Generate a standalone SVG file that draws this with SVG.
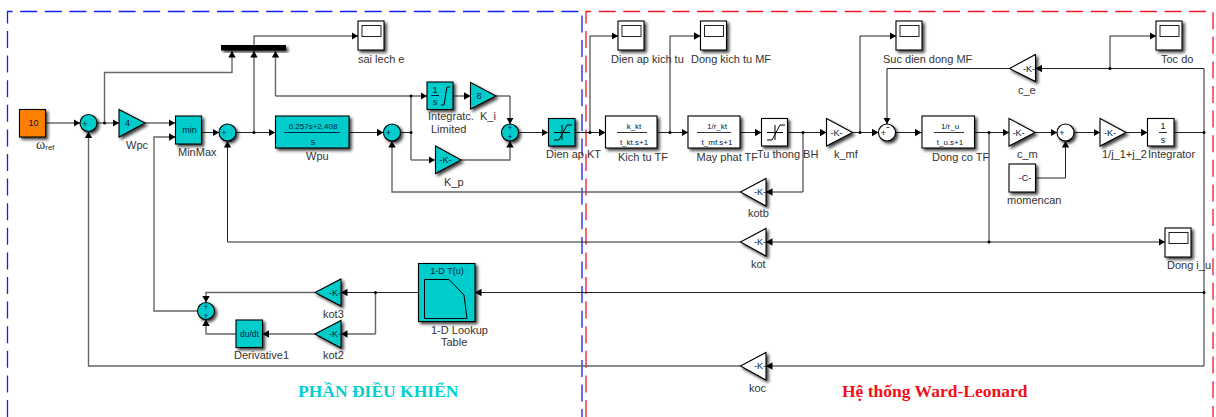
<svg xmlns="http://www.w3.org/2000/svg" width="1216" height="417" viewBox="0 0 1216 417">
<style>
text{font-family:"Liberation Sans",Arial,sans-serif;font-size:11px;fill:#333}
.t{font-size:9px;fill:#024;text-anchor:middle}
.n{font-size:8px}
.w{fill:#333}
.c{fill:#00cccc;stroke:#000;stroke-width:1.1;filter:url(#sh)}
.o{fill:#ff8000;stroke:#000;stroke-width:1.1;filter:url(#sh)}
.b{fill:#fff;stroke:#000;stroke-width:1.1;filter:url(#sh)}
.l{fill:none;stroke:#222;stroke-width:1}
.g{fill:none;stroke:#666;stroke-width:1.4}
.a{marker-end:url(#ar)}
.d{fill:#000}
.frame{fill:none;stroke-width:1.3;stroke-dasharray:17 7.600}
.ttl{font-family:"Liberation Serif","Times New Roman",serif;font-weight:bold;font-size:17.500px}
</style>
<defs>
<filter id="sh" x="-30%" y="-30%" width="170%" height="170%"><feDropShadow dx="2.200" dy="2.200" stdDeviation="1.600" flood-color="#000" flood-opacity="0.75"/></filter>
<marker id="ar" markerUnits="userSpaceOnUse" markerWidth="7" markerHeight="8" refX="6.500" refY="3.700" orient="auto"><path d="M0 0L6.500 3.700L0 7.400Z" fill="#000"/></marker>
<g id="scope"><rect class="b" width="26" height="29"/><rect x="4" y="4.500" width="19" height="11" fill="#fff" stroke="#222" stroke-width="1"/></g>
</defs>
<rect width="1216" height="417" fill="#fff"/>
<g id="frames">
<path class="frame" stroke="#1020f0" d="M7.500 417V11.500H582V417"/>
<path class="frame" stroke="#f01828" d="M586 417V11.500H1213V417"/>
</g>
<g id="connectors">
<path class="l a" d="M45 123H80"/>
<path class="l a" d="M97 123H119"/>
<path class="g a" d="M104.500 123V72.500H232V51"/>
<path class="l a" d="M145 123H175"/>
<path class="l a" d="M201.500 132.500H219"/>
<path class="l a" d="M236 132.500H275"/>
<path class="l a" d="M254 132.500V51"/>
<path class="l a" d="M254 36H358"/>
<path class="l" d="M254 51V36"/>
<path class="g a" d="M275.500 96V51"/>
<path class="g a" d="M275.500 96H427"/>
<path class="l a" d="M349 132.500H383.500"/>
<path class="l" d="M400.500 132.500H411"/>
<path class="g" d="M411 96V160"/>
<path class="g a" d="M411 160H435"/>
<path class="l a" d="M453 96H470.500"/>
<path class="l a" d="M496 96H510V124"/>
<path class="g a" d="M461 160H510V141"/>
<path class="l a" d="M518.500 132.500H548"/>
<path class="l a" d="M575 132.500H605.500"/>
<path class="l a" d="M590 132.500V36H618"/>
<path class="l a" d="M657 132.500H688"/>
<path class="l a" d="M670 132.500V36H700.500"/>
<path class="l a" d="M740 132.500H761.500"/>
<path class="l a" d="M787 132.500H826.500"/>
<path class="l a" d="M803 132.500V192H766"/>
<path class="g a" d="M740.500 192H392V141"/>
<path class="l a" d="M852.500 132.500H878.500"/>
<path class="l a" d="M860 132.500V36H896"/>
<path class="l a" d="M1204 68.500H1035.500"/>
<path class="l a" d="M1110 68.500V36H1156"/>
<path class="l a" d="M1009.500 68.500H887V124"/>
<path class="l a" d="M895.500 132.500H921.500"/>
<path class="l a" d="M974.500 132.500H1009"/>
<path class="l a" d="M1035 132.500H1057"/>
<path class="l a" d="M1074 132.500H1100"/>
<path class="l a" d="M1126 132.500H1147.500"/>
<path class="l" d="M1174 132.500H1204"/>
<path class="l a" d="M1035.500 178H1065.500V141"/>
<path class="l" d="M989 132.500V242"/>
<path class="l a" d="M989 242H766"/>
<path class="l a" d="M989 242H1165"/>
<path class="l a" d="M740.500 242H227.500V141"/>
<path class="l" d="M1204 68.500V292.500"/>
<path class="g" d="M1204 292.500V366"/>
<path class="l a" d="M1204 292.500H475"/>
<path class="g a" d="M1204 366H766"/>
<path class="g a" d="M740.500 366H88.500V131.500"/>
<path class="l a" d="M418 292.500H341"/>
<path class="g" d="M375.500 292.500V334"/>
<path class="g a" d="M375.500 334H341"/>
<path class="g a" d="M315 334H262.500"/>
<path class="g a" d="M315 292.500H206V302.500"/>
<path class="g a" d="M236 334H206V319.500"/>
<path class="g a" d="M197.500 311H154V137H175.500"/>
<g class="d">
<circle cx="104.500" cy="123" r="1.500"/><circle cx="254" cy="132.500" r="1.500"/><circle cx="411" cy="96" r="1.500"/><circle cx="411" cy="132.500" r="1.500"/>
<circle cx="590" cy="132.500" r="1.500"/><circle cx="670" cy="132.500" r="1.500"/><circle cx="803" cy="132.500" r="1.500"/><circle cx="860" cy="132.500" r="1.500"/>
<circle cx="989" cy="132.500" r="1.500"/><circle cx="989" cy="242" r="1.500"/><circle cx="1110" cy="68.500" r="1.500"/><circle cx="1204" cy="132.500" r="1.500"/>
<circle cx="1204" cy="292.500" r="1.500"/><circle cx="375.500" cy="292.500" r="1.500"/>
</g>
</g>
<g id="const"><rect class="o" x="19.500" y="109.500" width="26" height="27.500"/><text class="t" x="33.500" y="126">10</text><text x="36" y="149" style="font-family:'Liberation Serif',serif;font-size:14px">ω<tspan dy="1" style="font-family:'Liberation Sans',sans-serif;font-size:8px">ref</tspan></text></g>
<g id="sum1"><circle class="c" cx="88.500" cy="123" r="8.500"/><text class="t" x="85" y="126.500">+</text><text class="t" x="89.500" y="130" style="font-size:10px">_</text></g>
<g id="wpc"><path class="c" d="M119 109.500L145 123L119 137Z"/><text class="t" x="127.500" y="126">4</text><text x="126" y="149">Wpc</text></g>
<g id="minmax"><rect class="c" x="175.500" y="116" width="26" height="28"/><text class="t" x="189.500" y="133">min</text><text x="178" y="156">MinMax</text></g>
<g id="sum2"><circle class="c" cx="227.500" cy="132.500" r="8.500"/><text class="t" x="224" y="136">+</text><text class="t" x="229" y="139.500" style="font-size:10px">_</text></g>
<g id="mux"><rect x="221" y="45" width="65" height="5.500" fill="#000" filter="url(#sh)"/></g>
<g id="scope-e"><use href="#scope" x="358" y="21"/><text x="358" y="63">sai lech e</text></g>
<g id="wpu"><rect class="c" x="275.500" y="116" width="73.500" height="32"/><text class="t n" x="313" y="129">0.257s+2.408</text><path d="M284 132.500H340" stroke="#024" stroke-width="1"/><text class="t" x="313" y="145">s</text><text x="306" y="160">Wpu</text></g>
<g id="sum3"><circle class="c" cx="392" cy="132.500" r="8.500"/><text class="t" x="388.500" y="136">+</text><text class="t" x="393" y="139.500" style="font-size:10px">_</text></g>
<g id="integ"><rect class="c" x="427" y="82" width="26" height="27.500"/><text class="t" x="435" y="92.500">1</text><path d="M431 95.500H439" stroke="#024"/><text class="t" x="435" y="105">s</text><path d="M441 105H444L447 87H450" fill="none" stroke="#000"/><text x="428" y="120">Integratc.</text><text x="431" y="133">Limited</text></g>
<g id="ki"><path class="c" d="M470.500 82.500L496 96L470.500 109Z"/><text class="t" x="479" y="99">8</text><text x="480" y="120">K_i</text></g>
<g id="kp"><path class="c" d="M435.500 146L461 160L435.500 173.500Z"/><text class="t" x="445.500" y="163">-K-</text><text x="444" y="186">K_p</text></g>
<g id="sum4"><circle class="c" cx="510" cy="132.500" r="8.500"/><text class="t" x="510" y="131">+</text><text class="t" x="510" y="140">+</text></g>
<g id="dienap"><rect class="c" x="548.500" y="118.500" width="26.500" height="27.500"/><path d="M554 140H559L567 125H572M554 132.500H570M562 125V140" fill="none" stroke="#000"/><text x="546" y="158">Dien ap KT</text></g>
<g id="scope-dakt"><use href="#scope" x="618" y="21"/><text x="611" y="63">Dien ap kich tu</text></g>
<g id="kichtu"><rect class="b" x="605.500" y="116" width="51.500" height="32"/><text class="t n" x="634" y="129">k_kt</text><path d="M617 132.500H647" stroke="#333"/><text class="t n" x="634" y="145">t_kt.s+1</text><text x="618" y="161">Kich tu TF</text></g>
<g id="scope-dkt"><use href="#scope" x="700.500" y="21"/><text x="691" y="63">Dong kich tu MF</text></g>
<g id="mayphat"><rect class="b" x="688" y="116" width="52" height="32"/><text class="t n" x="717" y="129">1/r_kt</text><path d="M697 132.500H731" stroke="#333"/><text class="t n" x="717" y="145">t_mf.s+1</text><text x="696.500" y="161">May phat TF</text></g>
<g id="tuthong"><rect class="b" x="761.500" y="118.500" width="26" height="27.500"/><path d="M767 140H772L780 125H785M767 132.500H783M775 125V140" fill="none" stroke="#000"/><text x="757" y="158">Tu thong BH</text></g>
<g id="kmf"><path class="b" d="M826.500 118.500L852.500 132.500L826.500 146Z"/><text class="t" x="836.500" y="135.500">-K-</text><text x="834" y="158">k_mf</text></g>
<g id="kotb"><path class="b" d="M740.500 192L766 178.500V206Z"/><text class="t" x="760" y="195">-K-</text><text x="748" y="217">kotb</text></g>
<g id="scope-sd"><use href="#scope" x="896" y="21"/><text x="883" y="63">Suc dien dong MF</text></g>
<g id="sum5"><circle class="b" cx="887" cy="132.500" r="8.500"/><text class="t" x="883.500" y="136">+</text><text class="t" x="888" y="130" style="font-size:10px">-</text></g>
<g id="dongco"><rect class="b" x="922" y="116" width="52.500" height="32"/><text class="t n" x="950" y="129">1/r_u</text><path d="M934 132.500H964" stroke="#333"/><text class="t n" x="950" y="145">t_u.s+1</text><text x="932" y="161">Dong co TF</text></g>
<g id="ce"><path class="b" d="M1009.500 68.500L1035.500 54.500V81.500Z"/><text class="t" x="1029" y="71.500">-K-</text><text x="1018" y="93.500">c_e</text></g>
<g id="cm"><path class="b" d="M1009 118.500L1035 132.500L1009 146Z"/><text class="t" x="1018.500" y="135.500">-K-</text><text x="1017" y="158">c_m</text></g>
<g id="sum6"><circle class="b" cx="1065.500" cy="132.500" r="8.500"/><text class="t" x="1062" y="136">+</text><text class="t" x="1067" y="139.500" style="font-size:10px">_</text></g>
<g id="momen"><rect class="b" x="1009" y="164" width="26.500" height="28"/><text class="t" x="1025" y="181">-C-</text><text x="1007" y="204">momencan</text></g>
<g id="j"><path class="b" d="M1100 118.500L1126 132.500L1100 146Z"/><text class="t" x="1110" y="135.500">-K-</text><text x="1102" y="158">1/j_1+j_2</text></g>
<g id="integrator"><rect class="b" x="1147.500" y="118.500" width="26.500" height="27.500"/><text class="t" x="1163" y="129">1</text><path d="M1159 132.500H1167" stroke="#333"/><text class="t" x="1163" y="143">s</text><text x="1148" y="158">Integrator</text></g>
<g id="scope-toc"><use href="#scope" x="1156" y="21"/><text x="1161" y="63">Toc do</text></g>
<g id="scope-iu"><use href="#scope" x="1165" y="228"/><text x="1167" y="269">Dong i_u</text></g>
<g id="kot"><path class="b" d="M740.500 242L766 228.500V256Z"/><text class="t" x="760" y="245">-K-</text><text x="751" y="268">kot</text></g>
<g id="koc"><path class="b" d="M740.500 366L766 352.500V380Z"/><text class="t" x="760" y="369">-K-</text><text x="749" y="392">koc</text></g>
<g id="lookup"><rect class="c" x="418.500" y="263.500" width="56.500" height="58"/><text class="t" x="447" y="274">1-D T(u)</text><path d="M424.500 279.500H449L464 295L467 318.500H424.500Z" fill="none" stroke="#000"/><text x="431" y="334">1-D Lookup</text><text x="441" y="346">Table</text></g>
<g id="kot3"><path class="c" d="M315 292.500L341 279V306Z"/><text class="t" x="335" y="295.500">-K-</text><text x="323" y="318">kot3</text></g>
<g id="kot2"><path class="c" d="M315 334L341 320.500V348Z"/><text class="t" x="335" y="337">-K-</text><text x="323" y="359">kot2</text></g>
<g id="deriv"><rect class="c" x="236" y="320" width="26.500" height="27.500"/><text class="t n" x="249.500" y="337" style="font-size:8.500px">du/dt</text><text x="234" y="359">Derivative1</text></g>
<g id="sum7"><circle class="c" cx="206" cy="311" r="8.500"/><text class="t" x="206" y="310">+</text><text class="t" x="206" y="319">+</text></g>
<text class="ttl" x="298" y="396.500" style="fill:#00d0d0">PHẦN ĐIỀU KHIỂN</text>
<text class="ttl" x="842" y="396.500" style="fill:#f01018">Hệ thống Ward-Leonard</text>
</svg>
